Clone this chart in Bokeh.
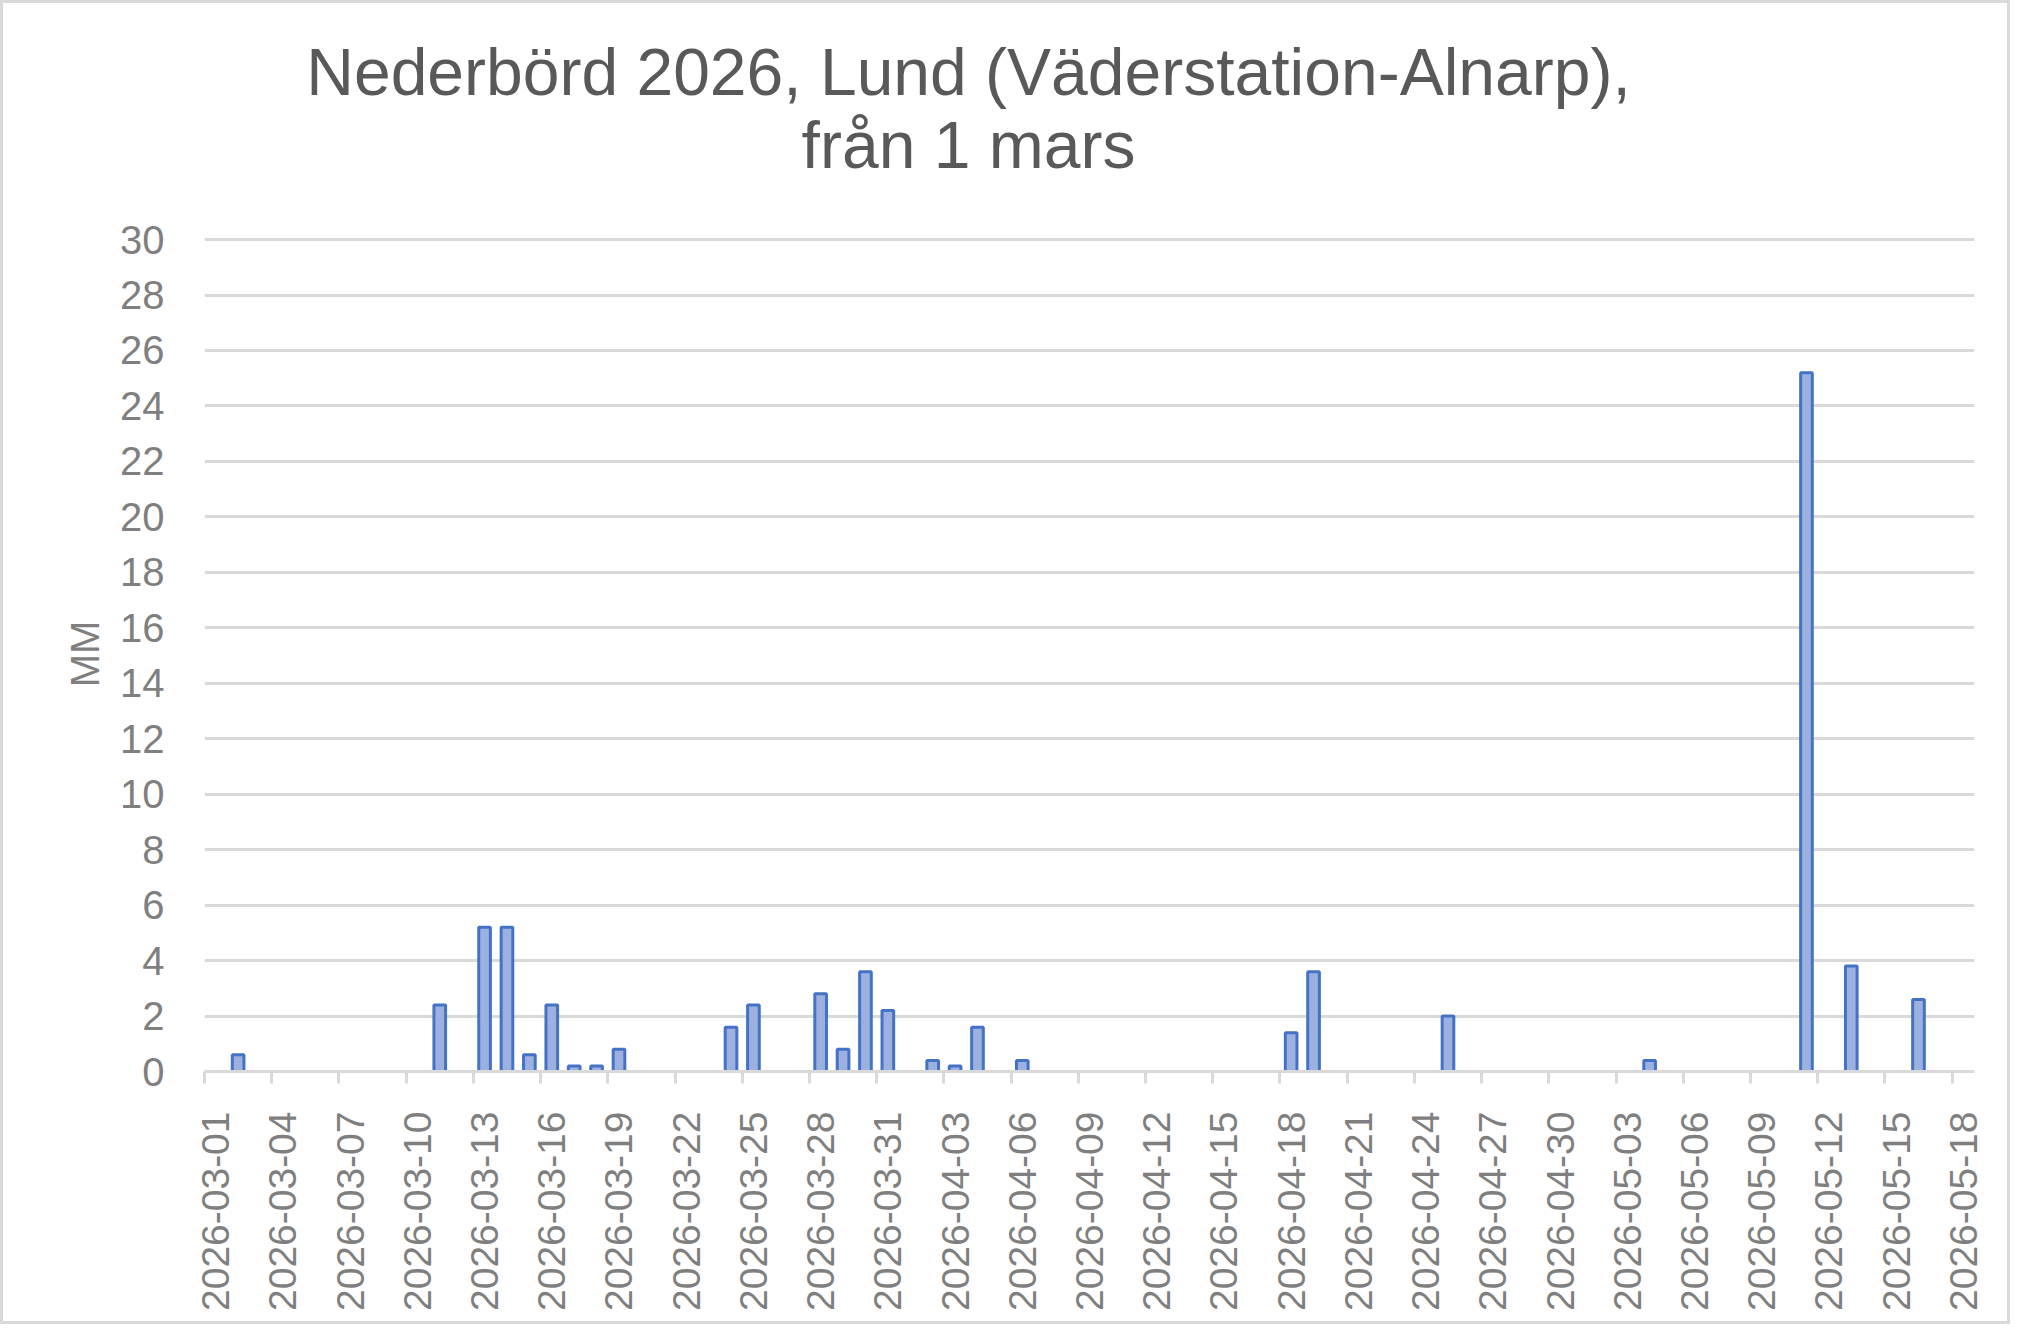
import math
import pandas as pd
from bokeh.plotting import figure
from bokeh.layouts import column
from bokeh.models import Range1d, FixedTicker, ColumnDataSource
from bokeh.core.properties import value
from bokeh.embed import file_html
from bokeh.resources import INLINE

# ---- data ----
start_date = "2026-03-01"
end_date = "2026-05-18"
dates = ["2026-03-02", "2026-03-11", "2026-03-13", "2026-03-14", "2026-03-15",
         "2026-03-16", "2026-03-17", "2026-03-18", "2026-03-19", "2026-03-24",
         "2026-03-25", "2026-03-28", "2026-03-29", "2026-03-30", "2026-03-31",
         "2026-04-02", "2026-04-03", "2026-04-04", "2026-04-06", "2026-04-18",
         "2026-04-19", "2026-04-25", "2026-05-04", "2026-05-11", "2026-05-13",
         "2026-05-16"]
mm = [0.6, 2.4, 5.2, 5.2, 0.6,
      2.4, 0.2, 0.2, 0.8, 1.6,
      2.4, 2.8, 0.8, 3.6, 2.2,
      0.4, 0.2, 1.6, 0.4, 1.4,
      3.6, 2.0, 0.4, 25.2, 3.8,
      2.6]
y_ticks = [0, 2, 4, 6, 8, 10, 12, 14, 16, 18, 20, 22, 24, 26, 28, 30]
title_lines = ["Nederbörd 2026, Lund (Väderstation-Alnarp),", "från 1 mars"]
y_label = "MM"

# ---- derived positions (day slots) ----
t0 = pd.Timestamp(start_date)
t1 = pd.Timestamp(end_date)
n_days = (t1 - t0).days + 1
day_idx = [(pd.Timestamp(d) - t0).days + 0.5 for d in dates]
tick_dates = pd.date_range(t0, t1, freq="3D")
tick_bound = [float((d - t0).days) for d in tick_dates]
tick_pos = [b + 0.5 for b in tick_bound]
tick_labels = {p_: d.strftime("%Y-%m-%d") for p_, d in zip(tick_pos, tick_dates)}

src = ColumnDataSource(dict(x=day_idx, mm=mm, date=dates))

FONT = "Liberation Sans"
GRID = "#D9D9D9"
LABEL = "#7F7F7F"
W = 2004
TITLE_H = 200
MAIN_H = 1118
BL, BR = 201, 33   # left / right borders of the plotting frame

# ---- title strip (data coordinates == canvas pixels) ----
pt = figure(width=W, height=TITLE_H, output_backend="svg", toolbar_location=None,
            x_range=Range1d(BL, W - BR), y_range=Range1d(0, TITLE_H),
            x_axis_location=None, y_axis_location=None, title_location=None,
            min_border_left=BL, min_border_right=BR,
            min_border_top=0, min_border_bottom=0, outline_line_color=None)
pt.grid.visible = False
pt.text(x=[965, 965], y=[132, 59], text=title_lines,
        text_align="center", text_baseline="alphabetic",
        text_font=value(FONT), text_font_size="66px", text_color="#595959")

# ---- main chart ----
p = figure(width=W, height=MAIN_H, output_backend="svg", toolbar_location=None,
           x_range=Range1d(0, n_days), y_range=Range1d(0, 30.11),
           min_border_left=BL, min_border_right=BR,
           min_border_top=33, min_border_bottom=250)
p.outline_line_color = None
p.background_fill_color = "white"
p.border_fill_color = "white"

p.vbar(x="x", top="mm", bottom=0, width=0.52, source=src,
       fill_color="#9DB1E1", line_color="#4472C4", line_width=3)

# x axis
xa = p.xaxis[0]
xa.ticker = FixedTicker(ticks=tick_pos, minor_ticks=tick_bound)
xa.major_label_overrides = tick_labels
xa.major_label_orientation = math.pi / 2
xa.major_tick_out = 0
xa.major_tick_in = 0
xa.minor_tick_out = 12
xa.minor_tick_in = 0
xa.minor_tick_line_color = GRID
xa.minor_tick_line_width = 3
xa.axis_line_color = GRID
xa.axis_line_width = 3
xa.major_label_standoff = 28
xa.major_label_text_font = FONT
xa.major_label_text_font_size = "39px"
xa.major_label_text_color = LABEL

# y axis
ya = p.yaxis[0]
ya.ticker = FixedTicker(ticks=y_ticks)
ya.axis_line_color = None
ya.major_tick_line_color = None
ya.minor_tick_line_color = None
ya.major_label_standoff = 34
ya.major_label_text_font = FONT
ya.major_label_text_font_size = "40px"
ya.major_label_text_color = LABEL
ya.axis_label = y_label
ya.axis_label_text_font = FONT
ya.axis_label_text_font_size = "40px"
ya.axis_label_text_font_style = "normal"
ya.axis_label_text_color = LABEL
ya.axis_label_standoff = 10

p.xgrid.grid_line_color = None
p.ygrid.grid_line_color = GRID
p.ygrid.grid_line_width = 3

layout = column(pt, p, spacing=0)
layout.styles = {"border": "3px solid #D9D9D9", "background": "white"}

open("out.html", "w").write(file_html(layout, INLINE))
